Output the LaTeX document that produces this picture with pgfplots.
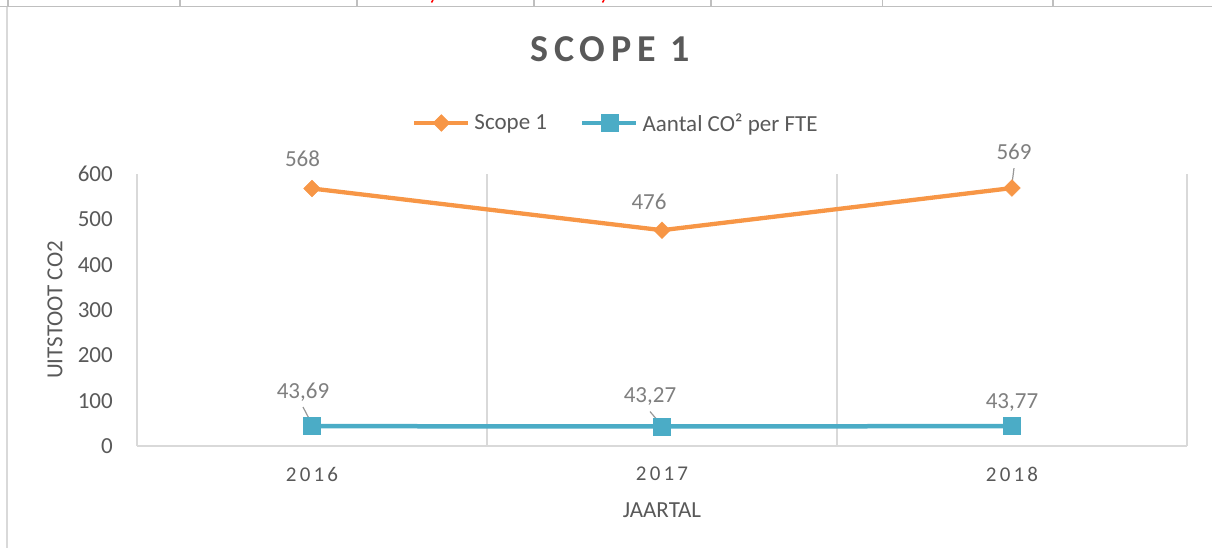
\documentclass[border=0pt]{standalone}
\usepackage{pgfplots}
\pgfplotsset{compat=1.18}
\usepackage{pgfplotstable}
\usepackage{fontspec}
\setmainfont{Carlito}
\newfontfamily\titlefont[LetterSpace=15]{Carlito}
\newfontfamily\xtickfont[LetterSpace=15]{Carlito}
\definecolor{cOrange}{HTML}{F79646}
\definecolor{cBlue}{HTML}{4BACC6}
\definecolor{cText}{HTML}{595959}
\definecolor{cLabel}{HTML}{7F7F7F}
\definecolor{cGrid}{HTML}{D9D9D9}
\definecolor{cCell}{HTML}{BFBFBF}

\pgfplotstableread{
x y lab dx dy
0 568 568 -9.5 21.8
1 476 476 -13 21
2 569 569 2 28.7
}\scopeone
\pgfplotstableread{
x y lab dx dy
0 43.69 43,69 -9 27.7
1 43.27 43,27 -12 23.7
2 43.77 43,77 0 18
}\perfte

\begin{document}
\begin{tikzpicture}
\path[use as bounding box] (0bp,0bp) rectangle (1212bp,548bp);
% spreadsheet cells above the chart
\draw[cCell, line width=1.8bp] (0bp,541.5bp) -- (1212bp,541.5bp);
\foreach \xx in {8,180,357,534,711,882.5,1053}{
  \draw[cCell, line width=1.5bp] (\xx bp,548bp) -- (\xx bp,542bp);
}
\draw[red, line width=1.5bp] (433bp,548bp) -- (431.5bp,545.5bp);
\draw[red, line width=1.5bp] (604bp,548bp) -- (602.5bp,545.5bp);
% chart border
\draw[cGrid, line width=1.5bp] (7bp,541bp) -- (7bp,0bp);

\begin{axis}[
  at={(137bp,102bp)}, anchor=south west,
  scale only axis, width=1050bp, height=272bp,
  clip=false,
  xmin=-0.5, xmax=2.5, ymin=0, ymax=600,
  xtick={0,1,2}, xticklabels={2016,2017,2018},
  minor xtick={0.5,1.5,2.5}, xminorgrids,
  minor grid style={cGrid, line width=1.3bp},
  ytick={0,100,200,300,400,500,600},
  major tick length=0pt, minor tick length=0pt,
  axis x line*=bottom, axis y line*=left,
  axis line style={cGrid, line width=1.3bp, -},
  /pgf/number format/assume math mode=true,
  yticklabel style={anchor=east, inner sep=0pt, xshift=-24bp,
    font=\fontsize{23bp}{27bp}\selectfont, text=cText},
  xticklabel style={anchor=north, inner sep=0pt, yshift=-21bp,
    font=\xtickfont\fontsize{21bp}{25bp}\selectfont, text=cText},
  xlabel={JAARTAL},
  xlabel style={at={(axis description cs:0.5,-0.235)}, anchor=center,
    font=\fontsize{23bp}{27bp}\selectfont, text=cText},
  ylabel={UITSTOOT CO2},
  ylabel style={at={(axis description cs:-0.0781,0.5)}, anchor=center,
    font=\fontsize{23bp}{27bp}\selectfont, text=cText},
  title={SCOPE 1},
  title style={at={(axis description cs:0.4505,1.4375)}, anchor=center,
    font=\titlefont\bfseries\fontsize{38bp}{42bp}\selectfont, text=cText},
  legend columns=2,
  legend style={at={(axis description cs:0.2619,1.1875)}, anchor=west,
    draw=none, fill=none, inner sep=0pt,
    font=\fontsize{23bp}{27bp}\selectfont, text=cText,
    nodes={inner sep=0pt},
    /tikz/every odd column/.style={column sep=4bp},
    /tikz/every even column/.style={column sep=33bp}},
  legend image code/.code={
    \draw[mark repeat=2, mark phase=2, #1] plot coordinates {(0bp,0bp) (27bp,0bp) (54bp,0bp)};
  },
]
\addplot[cOrange, line width=4.3bp, mark=square*, mark size=5.9bp,
  mark options={rotate=45, solid, fill=cOrange, draw=cOrange, line width=0.5bp},
  nodes near coords, point meta=explicit symbolic,
  visualization depends on={\thisrow{dx} \as \dx},
  visualization depends on={\thisrow{dy} \as \dy},
  every node near coord/.append style={anchor=base, inner sep=0pt,
    xshift=\dx*1bp, yshift=\dy*1bp,
    font=\fontsize{23bp}{27bp}\selectfont, text=cLabel}
] table[x=x, y=y, meta=lab] {\scopeone};
\addlegendentry{Scope 1}

\draw[cLabel!80, line width=1.2bp] (axis cs:2.0057,613) -- (axis cs:2,578);
\draw[cLabel!80, line width=1.2bp] (axis cs:-0.0257,86) -- (axis cs:0,48);
\draw[cLabel!80, line width=1.2bp] (axis cs:0.9657,76) -- (axis cs:0.999,46);

\addplot[cBlue, line width=4.5bp, mark=square*, mark size=8.5bp,
  mark options={solid, fill=cBlue, draw=cBlue, line width=0.5bp},
  nodes near coords, point meta=explicit symbolic,
  visualization depends on={\thisrow{dx} \as \dx},
  visualization depends on={\thisrow{dy} \as \dy},
  every node near coord/.append style={anchor=base, inner sep=0pt,
    xshift=\dx*1bp, yshift=\dy*1bp,
    font=\fontsize{23bp}{27bp}\selectfont, text=cLabel}
] table[x=x, y=y, meta=lab] {\perfte};
\addlegendentry{Aantal CO² per FTE}
\end{axis}
\end{tikzpicture}
\end{document}
